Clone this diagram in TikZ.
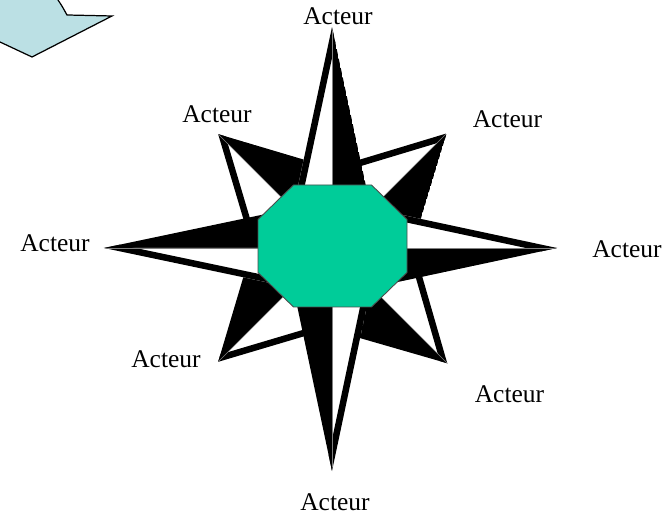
\documentclass[tikz,border=0pt]{standalone}
\usepackage{fontspec}
\setmainfont{Liberation Serif}
\definecolor{hubgreen}{RGB}{0,204,153}
\definecolor{noteblue}{RGB}{187,224,228}
\begin{document}
\begin{tikzpicture}[x=0.02cm, y=0.02cm, font=\fontsize{14.5}{17}\selectfont]
  \tikzset{actor/.style={anchor=base, inner sep=0pt},
    rim/.style={line width=0.26cm}}
  \useasboundingbox (-332,-268) rectangle (339,248);
  \clip (-332,-268) rectangle (339,248);
  % note shape, cut by the top left corner
  \filldraw[fill=noteblue, line width=0.7pt] (-274,260) -- (-274,248)
    .. controls (-270,242) .. (-265,233) -- (-220,232) -- (-300,191)
    -- (-332,206) -- (-345,200) -- (-345,260) -- cycle;
  % compass points: diagonals first, then the four main ones
  \foreach \a/\R/\r in {45/162/80,135/161/80,225/161/80,315/163/82,
                        0/225/56,90/221/55,180/228/56,270/223/55} {
    \begin{scope}
      \clip (\a:\R) -- (\a+45:\r) -- (0,0) -- (\a-45:\r) -- cycle;
      \fill (\a:\R) -- (0,0) -- (\a-45:\r) -- cycle;
      \fill[white] (\a:\R) -- (\a+45:\r) -- (0,0) -- cycle;
      \draw[rim] (0,0) -- (\a+45:\r) -- (\a:\R);
      \draw[gray, line width=0.3pt] (\a:\R) -- (0,0);
    \end{scope}
  }
  % hub
  \filldraw[fill=hubgreen, draw=black!70, line width=0.5pt]
    (-38.5,63) -- (39.5,63) -- (75,28.5) -- (75,-24.5) -- (39.5,-59)
    -- (-38.5,-59) -- (-74,-24.5) -- (-74,28.5) -- cycle;
  % labels
  \node[actor] (n)  at (6,223)      {Acteur};
  \node[actor] (nw) at (-115,125)   {Acteur};
  \node[actor] (ne) at (175.5,120)  {Acteur};
  \node[actor] (w)  at (-277,-4)    {Acteur};
  \node[actor] (e)  at (295,-10)    {Acteur};
  \node[actor] (sw) at (-166,-120)  {Acteur};
  \node[actor] (se) at (177.5,-154) {Acteur};
  \node[actor] (s)  at (3,-262)     {Acteur};
\end{tikzpicture}
\end{document}
